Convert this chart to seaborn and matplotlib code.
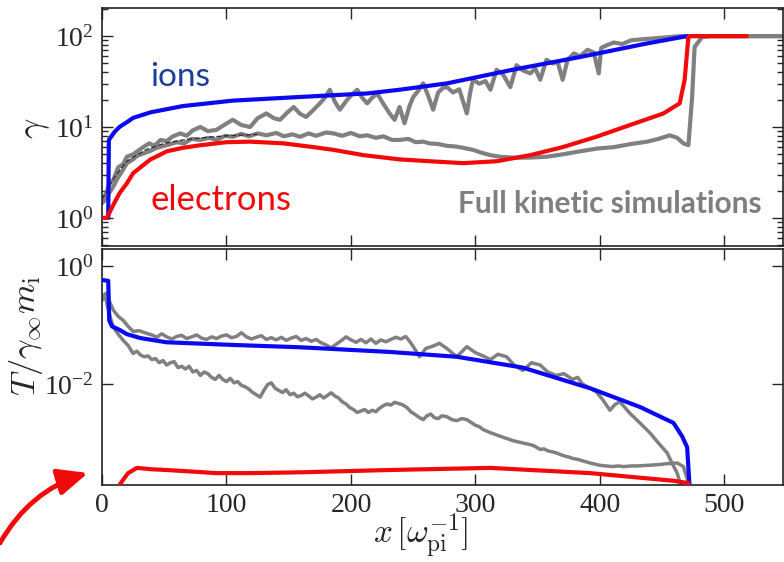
import matplotlib
matplotlib.use("Agg")
import matplotlib.pyplot as plt
from matplotlib.patches import FancyArrowPatch
from matplotlib.ticker import LogLocator, NullLocator, NullFormatter
import seaborn as sns

# ---- top panel: Lorentz factor gamma ----
ion_gamma_x = [5, 5.5, 10, 14, 20, 25, 39, 65, 105, 159, 213, 239, 277, 330, 384, 438, 470]
ion_gamma_y = [1.0, 7.2, 8.8, 10.0, 11.3, 12.6, 14.5, 17.0, 19.5, 21.4, 23.4, 25.7, 30.2, 42.7, 58.9, 83.2, 100]

ele_gamma_x = [0, 4, 8, 14, 20, 25, 32, 39, 46, 52, 65, 79, 100, 119, 146, 170, 186, 210, 239,
               263, 290, 317, 344, 370, 397, 424, 451, 464, 468, 471, 473, 518]
ele_gamma_y = [1.0, 1.0, 1.3, 1.86, 2.4, 3.1, 3.7, 4.4, 4.9, 5.4, 5.9, 6.3, 6.8, 6.9, 6.6, 6.0, 5.6, 4.9, 4.4,
               4.2, 4.0, 4.2, 4.9, 6.0, 7.8, 10.5, 14.1, 18.2, 33.1, 97.7, 100, 100]

sim_ion_gamma_x = [0, 3, 6, 9, 13, 17, 20, 25, 30, 33, 38, 42, 47, 52, 57, 63, 68, 73, 79, 85, 92, 98,
                   105, 112, 119, 125, 132, 138, 143, 149, 154, 159, 164, 170, 175, 179, 183, 187, 191,
                   197, 201, 205, 209, 213, 217, 221, 226, 231, 235, 239, 243, 247, 250, 254, 258, 262,
                   266, 270, 274, 277, 282, 287, 293, 296, 298, 303, 308, 312, 317, 322, 328, 333, 338,
                   344, 348, 352, 357, 362, 366, 370, 374, 379, 384, 390, 395, 399, 401, 406, 411, 418,
                   425, 438, 450, 464, 480, 547]
sim_ion_gamma_y = [1.6, 1.8, 2.4, 2.6, 3.6, 3.9, 4.7, 5.0, 5.6, 6.0, 6.6, 6.2, 7.2, 7.0, 7.9, 8.5, 8.0, 9.2,
                   10.0, 9.0, 9.3, 10.5, 12.0, 10.5, 10.0, 12.5, 14.1, 12.5, 12.0, 14.5, 16.6, 14.0, 12.9,
                   15.5, 18.2, 21.0, 25.7, 19.0, 15.5, 20.0, 23.0, 25.7, 21.0, 18.2, 21.0, 23.4, 18.0,
                   14.1, 12.0, 16.6, 11.0, 17.0, 21.4, 25.0, 30.2, 22.0, 15.5, 24.0, 27.0, 27.5, 24.0,
                   26.0, 14.1, 25.0, 33.1, 30.0, 32.0, 25.7, 42.7, 38.0, 27.5, 47.9, 42.0, 38.9, 44.0,
                   33.1, 55.0, 50.0, 52.0, 33.1, 55.0, 64.6, 60.0, 70.8, 66.0, 38.9, 74.1, 80.0, 85.0,
                   82.0, 90.0, 93.3, 96.0, 100, 100, 100]

sim_ele_gamma_x = [0, 3, 6, 9, 13, 17, 20, 25, 28, 33, 38, 44, 52, 60, 66, 72, 79, 86, 92, 99, 105, 112,
                   118, 125, 132, 140, 146, 153, 159, 166, 172, 180, 186, 193, 200, 207, 213, 220, 226,
                   233, 239, 246, 252, 258, 263, 270, 277, 284, 290, 298, 305, 312, 320, 330, 343, 357,
                   370, 384, 398, 411, 425, 438, 447, 456, 462, 467, 471, 474, 476, 482, 490, 547]
sim_ele_gamma_y = [1.45, 1.6, 1.9, 2.2, 2.8, 3.4, 4.0, 4.4, 4.8, 5.1, 5.4, 5.9, 6.3, 6.8, 6.6, 7.4, 7.2,
                   7.6, 7.2, 8.0, 7.8, 8.4, 7.9, 8.5, 8.1, 8.6, 7.9, 8.3, 7.8, 8.5, 8.0, 8.7, 8.5, 8.0,
                   8.6, 7.9, 8.1, 7.6, 7.9, 7.2, 7.2, 7.4, 6.8, 6.9, 6.6, 6.5, 6.2, 6.1, 5.9, 5.6, 5.2,
                   4.9, 4.7, 4.6, 4.6, 4.7, 5.0, 5.4, 5.8, 6.0, 6.5, 6.9, 7.4, 8.1, 7.6, 6.6, 6.3, 21.4,
                   75.9, 97.7, 100, 100]

dark_gamma_x = [0, 10, 20, 35, 50, 65, 80, 100, 125]
dark_gamma_y = [1.6, 2.8, 4.2, 5.6, 6.6, 7.2, 7.6, 8.0, 8.3]

# ---- bottom panel: temperature T / (gamma_inf m_i) ----
ion_temp_x = [0, 5, 5.8, 8, 14, 20, 31, 52, 105, 159, 231, 285, 338, 392, 432, 459, 466, 470, 472]
ion_temp_y = [0.58, 0.56, 0.12, 0.095, 0.083, 0.070, 0.060, 0.051, 0.046, 0.042, 0.035, 0.029, 0.019,
              0.0085, 0.0041, 0.0022, 0.0013, 0.00085, 0.00018]

ele_temp_x = [13, 17, 21, 28, 40, 52, 92, 119, 160, 231, 312, 392, 459, 471, 472]
ele_temp_y = [0.00018, 0.00024, 0.00031, 0.00038, 0.00036, 0.00035, 0.00031, 0.00031, 0.00032,
              0.00035, 0.00038, 0.00031, 0.00023, 0.00021, 0.00018]

sim_ion_temp_x = [0, 2, 4, 6, 9, 13, 17, 21, 25, 30, 36,
                  40, 44, 48, 52, 56, 60, 64, 68, 72, 76, 80, 84, 88, 92, 96, 100, 104, 108, 112, 116,
                  120, 124, 128, 132, 136, 140, 144, 148, 152, 156, 160, 164, 168, 172, 176, 180, 184,
                  188, 192, 196, 200, 204, 208, 212, 216, 220, 224, 228, 232, 236, 240, 244, 248,
                  251, 255, 260, 266, 271, 277, 285, 293, 300, 306, 312, 318, 325, 331, 338, 345, 352,
                  358, 365, 371, 378, 382, 386, 392, 397, 402, 408, 412, 416, 420, 424, 432, 440, 447,
                  454, 458, 462, 465]
sim_ion_temp_y = [0.26, 0.33, 0.35, 0.25, 0.18, 0.14, 0.12, 0.095, 0.078, 0.080, 0.072,
                  0.068, 0.062, 0.071, 0.063, 0.058, 0.064, 0.067, 0.059, 0.063, 0.068, 0.060, 0.057,
                  0.063, 0.059, 0.065, 0.068, 0.061, 0.064, 0.074, 0.063, 0.058, 0.062, 0.066, 0.057,
                  0.061, 0.056, 0.062, 0.055, 0.060, 0.064, 0.055, 0.059, 0.053, 0.057, 0.050, 0.046,
                  0.041, 0.047, 0.054, 0.063, 0.056, 0.051, 0.057, 0.050, 0.058, 0.049, 0.056, 0.052,
                  0.057, 0.062, 0.058, 0.064, 0.050,
                  0.040, 0.029, 0.040, 0.044, 0.049, 0.040, 0.029, 0.043, 0.034, 0.030, 0.026, 0.032,
                  0.029, 0.021, 0.017, 0.023, 0.021, 0.016, 0.014, 0.015, 0.012, 0.013, 0.010, 0.0085,
                  0.0074, 0.0055, 0.0036, 0.0045, 0.0050, 0.0040, 0.0032, 0.0022, 0.0015, 0.0010,
                  0.00068, 0.00045, 0.00031, 0.00019]

sim_ele_temp_x = [0, 3, 6, 9, 13, 17, 21,
                  25, 28, 31, 34, 37, 40, 43, 46, 49, 52, 55, 58, 61, 64, 67, 70, 73, 76, 79, 82, 85,
                  88, 91, 94, 97, 100, 103, 106, 109, 112, 115, 118, 121, 124, 127, 130, 133, 136, 139,
                  142, 145, 148, 151, 154, 157, 160, 163, 166, 169, 172, 175, 178, 181, 184, 187, 190,
                  193, 196, 199, 202, 205, 208, 211, 214, 217, 220, 223, 226, 229, 232, 235, 238, 241,
                  245, 248, 252, 255, 258, 261, 264, 267, 270, 273, 277, 281, 285, 289, 293, 297, 300,
                  303, 306, 309, 312, 316, 320, 325, 330, 334, 338, 342, 346, 349, 352, 355, 358, 362,
                  365, 369, 372, 375, 378, 382, 386, 389, 392, 396, 400, 405, 410, 415, 419, 425, 430,
                  438, 446, 455, 462, 467, 470, 471]
sim_ele_temp_y = [0.30, 0.28, 0.15, 0.093, 0.070, 0.055, 0.045,
                  0.033, 0.036, 0.031, 0.029, 0.030, 0.026, 0.027, 0.023, 0.025, 0.021, 0.023, 0.024,
                  0.019, 0.020, 0.018, 0.020, 0.016, 0.017, 0.014, 0.016, 0.015, 0.013, 0.012, 0.014,
                  0.012, 0.011, 0.0125, 0.0105, 0.0110, 0.0095, 0.0090, 0.0082, 0.0072, 0.0066, 0.0060,
                  0.0078, 0.0098, 0.0105, 0.0085, 0.0078, 0.0072, 0.0080, 0.0066, 0.0070, 0.0061,
                  0.0064, 0.0070, 0.0063, 0.0056, 0.0060, 0.0066, 0.0058, 0.0064, 0.0071, 0.0063,
                  0.0058, 0.0050, 0.0046, 0.0040, 0.0037, 0.0033, 0.0035, 0.0037, 0.0033, 0.0036,
                  0.0034, 0.0039, 0.0043, 0.0046, 0.0044, 0.0049, 0.0047, 0.0045,
                  0.0040, 0.0034, 0.0030, 0.0027, 0.0025, 0.0029, 0.0031, 0.0027, 0.0026, 0.0029,
                  0.0028, 0.0025, 0.0024, 0.0026, 0.0025, 0.0022, 0.0020, 0.0019, 0.0017, 0.0016,
                  0.0015, 0.0014, 0.0013, 0.0012, 0.0011, 0.00105, 0.0010, 0.00096, 0.00092, 0.00085,
                  0.00078, 0.00080, 0.00074, 0.00071, 0.00068, 0.00063, 0.00060, 0.00058, 0.00055,
                  0.00053, 0.00050, 0.00048, 0.00046, 0.00044, 0.00042, 0.00041, 0.00040, 0.00041,
                  0.00040, 0.00041, 0.00041, 0.00042, 0.00043, 0.00045, 0.00046, 0.00040, 0.00025,
                  0.00018]

x_ticks = [0, 100, 200, 300, 400, 500]

BLUE = "#0a0af0"
RED = "#f20a0a"
GRAY = "#808080"

sns.set_style("ticks")
plt.rcParams["font.family"] = ["Liberation Serif", "DejaVu Serif"]
plt.rcParams["mathtext.fontset"] = "cm"

W, H = 784, 562
fig = plt.figure(figsize=(W / 100, H / 100), dpi=100)


def box(left, top, right, bottom):
    return [left / W, 1 - bottom / H, (right - left) / W, (bottom - top) / H]


def draw(ax, xs, ys, color, lw, z, ls="-"):
    sns.lineplot(x=xs, y=ys, ax=ax, color=color, lw=lw, estimator=None, sort=False,
                 zorder=z, linestyle=ls, legend=False)


ax1 = fig.add_axes(box(102, 8, 783, 246))
ax2 = fig.add_axes(box(102, 249, 783, 485))

draw(ax1, sim_ion_gamma_x, sim_ion_gamma_y, GRAY, 3.0, 2)
draw(ax1, sim_ele_gamma_x, sim_ele_gamma_y, GRAY, 3.0, 2)
draw(ax1, dark_gamma_x, dark_gamma_y, "#333333", 1.0, 2.5, "--")
draw(ax1, ion_gamma_x, ion_gamma_y, BLUE, 3.0, 3)
draw(ax1, ele_gamma_x, ele_gamma_y, RED, 3.0, 3)

draw(ax2, sim_ion_temp_x, sim_ion_temp_y, GRAY, 2.5, 2)
draw(ax2, sim_ele_temp_x, sim_ele_temp_y, GRAY, 2.5, 2)
draw(ax2, ion_temp_x, ion_temp_y, BLUE, 3.0, 3)
draw(ax2, ele_temp_x, ele_temp_y, RED, 3.0, 3)

for ax in (ax1, ax2):
    ax.set_yscale("log")
    ax.set_xlim(0, 547)
    ax.set_xticks(x_ticks)
    ax.tick_params(which="both", direction="in", top=True, right=True, width=1, labelsize=20, pad=6)
    ax.tick_params(which="major", length=8)
    ax.tick_params(which="minor", length=4)
    ax.set_xlabel("")
    ax.set_ylabel("")
    for s in ax.spines.values():
        s.set_linewidth(1.2)
        s.set_color("#222222")

ax1.set_ylim(0.49, 204)
ax1.set_yticks([1, 10, 100])
ax1.yaxis.set_minor_locator(LogLocator(base=10, subs=range(2, 10)))
ax1.yaxis.set_minor_formatter(NullFormatter())
ax1.set_xticklabels([])

ax2.set_ylim(1.95e-4, 1.94)
ax2.set_yticks([1e-2, 1])
ax2.yaxis.set_minor_locator(NullLocator())

fig.text(36 / W, 1 - 128 / H, r"$\gamma$", fontsize=26, rotation=90, ha="center", va="center")
fig.text(26 / W, 1 - 336 / H, r"$T/\gamma_\infty m_{\rm i}$", fontsize=25, rotation=90,
         ha="center", va="center")
fig.text(421 / W, 1 - 536 / H, r"$x\,[\omega_{\rm pi}^{-1}]$", fontsize=24, ha="center", va="center")

fig.text(150 / W, 1 - 86 / H, "ions", fontsize=24, color="#1a3f9a", family=["Lato", "DejaVu Sans"],
         va="baseline")
fig.text(150 / W, 1 - 210 / H, "electrons", fontsize=25, color="#f20a0a", family=["Lato", "DejaVu Sans"],
         va="baseline")
fig.text(458 / W, 1 - 213 / H, "Full kinetic simulations", fontsize=21.5, fontweight="bold",
         color="#7f7f7f", family=["Lato", "DejaVu Sans"], va="baseline")

arrow = FancyArrowPatch((0, 19), (88, 89), transform=None,
                        arrowstyle="-|>,head_length=0.9,head_width=0.4",
                        connectionstyle="arc3,rad=-0.2", mutation_scale=20, lw=3.5,
                        color="#f20a0a", shrinkA=0, shrinkB=0)
fig.patches.append(arrow)

fig.savefig("out.png", dpi=100)
